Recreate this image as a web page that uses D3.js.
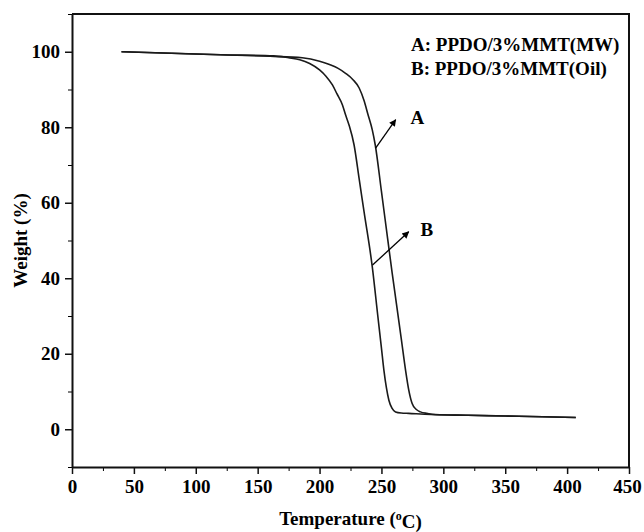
<!DOCTYPE html>
<html>
<head>
<meta charset="utf-8">
<script src="https://cdn.jsdelivr.net/npm/d3@7"></script>
<style>
  body { margin: 0; background: #fff; }
  svg text { font-family: "Liberation Serif", "Times New Roman", serif; font-weight: bold; fill: #000; }
</style>
</head>
<body>
<div class="chart"></div>
<script>
// TGA curves
var tempA   = [40, 80, 120, 160, 186, 200, 208, 215, 221, 227, 232, 236, 239, 242.6, 245, 250, 255, 258.7, 262, 266, 269.5, 272, 274.8, 278, 281.5, 287, 293.6, 320, 350, 380, 407];
var weightA = [100, 99.6, 99.2, 98.8, 98.4, 97.5, 96.6, 95.6, 94.3, 92.6, 90.4, 87.0, 83.5, 79.3, 75.3, 63, 50.5, 41.3, 33.5, 24, 15.6, 10.5, 6.8, 5.3, 4.6, 4.2, 3.9, 3.7, 3.5, 3.3, 3.1];

var tempB   = [40, 80, 120, 163, 175, 184, 192, 200, 205, 210.4, 214, 218.5, 221, 223.8, 227.9, 232, 236, 242.6, 247, 250, 252, 254, 256, 258.5, 261.4, 266, 272, 290, 320, 350, 380, 407];
var weightB = [100, 99.6, 99.2, 98.9, 98.4, 97.9, 96.9, 95.2, 93.6, 91.2, 88.9, 85.9, 83.3, 80.6, 75.3, 66.3, 57.5, 43, 30.2, 21.5, 15.6, 11, 7.7, 5.6, 4.6, 4.3, 4.2, 3.9, 3.7, 3.5, 3.3, 3.1];

var xTicks = [0, 50, 100, 150, 200, 250, 300, 350, 400, 450];
var xMinor = [25, 75, 125, 175, 225, 275, 325, 375, 425];
var yTicks = [0, 20, 40, 60, 80, 100];
var yMinor = [-10, 10, 30, 50, 70, 90, 110];

var legendLines = ["A: PPDO/3%MMT(MW)", "B: PPDO/3%MMT(Oil)"];

// arrow annotations: [from temp, from weight, to temp, to weight], label position
var arrowA = [245.3, 74.5, 261.5, 82.0];
var arrowB = [242.8, 43.5, 272.0, 52.3];
var labelA = [273.5, 82.5];
var labelB = [281.5, 53.0];

var W = 644, H = 532;
var margin = {top: 14, right: 15, bottom: 65, left: 72},
    width = W - margin.left - margin.right,
    height = H - margin.top - margin.bottom;

var svg = d3.select(".chart")
  .append("svg")
    .attr("width", W)
    .attr("height", H)
  .append("g")
    .attr("transform", "translate(" + margin.left + "," + margin.top + ")");

var x = d3.scaleLinear().domain([0, 450]).range([0, width]);
var y = d3.scaleLinear().domain([-10, 110]).range([height, 0]);

// minor ticks first
svg.append("g")
  .attr("transform", "translate(0," + height + ")")
  .call(d3.axisBottom(x).tickValues(xMinor).tickSize(4).tickFormat(""))
  .call(function(g) { g.select(".domain").remove(); });
svg.append("g")
  .call(d3.axisLeft(y).tickValues(yMinor).tickSize(4).tickFormat(""))
  .call(function(g) { g.select(".domain").remove(); });

// major axes
var gX = svg.append("g")
  .attr("transform", "translate(0," + height + ")")
  .call(d3.axisBottom(x).tickValues(xTicks).tickSize(7).tickSizeOuter(0).tickPadding(6));
var gY = svg.append("g")
  .call(d3.axisLeft(y).tickValues(yTicks).tickSize(7).tickSizeOuter(0).tickPadding(5));

[gX, gY].forEach(function(g) {
  g.selectAll("text").style("font-size", "19px").style("font-family", '"Liberation Serif", serif').style("font-weight", "bold");
  g.selectAll("line").attr("stroke", "#111").attr("stroke-width", 1.5);
  g.select(".domain").attr("stroke", "#111").attr("stroke-width", 2);
});

// keep the last label inside the window
gX.selectAll(".tick text").filter(function(d) { return d === 450; }).attr("dx", "-0.1em");

// frame top / right
svg.append("path")
  .attr("d", "M0,0H" + width + "V" + height)
  .attr("fill", "none")
  .attr("stroke", "#111")
  .attr("stroke-width", 2);

var line = d3.line()
  .x(function(d) { return x(d[0]); })
  .y(function(d) { return y(d[1]); })
  .curve(d3.curveMonotoneX);

[[tempA, weightA], [tempB, weightB]].forEach(function(s) {
  svg.append("path")
    .datum(d3.zip(s[0], s[1]))
    .attr("fill", "none")
    .attr("stroke", "#1a1a1a")
    .attr("stroke-width", 1.6)
    .attr("d", line);
});

// arrows
svg.append("defs").append("marker")
  .attr("id", "arr")
  .attr("viewBox", "0 0 10 10")
  .attr("refX", 9).attr("refY", 5)
  .attr("markerWidth", 10).attr("markerHeight", 7)
  .attr("markerUnits", "userSpaceOnUse")
  .attr("orient", "auto")
  .append("path").attr("d", "M0,0L10,5L0,10Z").attr("fill", "#000");

[[arrowA, labelA, "A"], [arrowB, labelB, "B"]].forEach(function(a) {
  svg.append("line")
    .attr("x1", x(a[0][0])).attr("y1", y(a[0][1]))
    .attr("x2", x(a[0][2])).attr("y2", y(a[0][3]))
    .attr("stroke", "#000").attr("stroke-width", 1.3)
    .attr("marker-end", "url(#arr)");
  svg.append("text")
    .attr("x", x(a[1][0])).attr("y", y(a[1][1]))
    .attr("dy", "0.35em")
    .style("font-size", "19px")
    .text(a[2]);
});

// legend text
svg.selectAll(".legend")
  .data(legendLines)
  .enter().append("text")
  .attr("class", "legend")
  .attr("x", 339)
  .attr("y", function(d, i) { return 37 + i * 24; })
  .style("font-size", "19px")
  .text(function(d) { return d; });

// axis titles
var xt = svg.append("text")
  .attr("x", width / 2)
  .attr("y", height + 58)
  .attr("text-anchor", "middle")
  .style("font-size", "19px");
xt.append("tspan").text("Temperature (");
xt.append("tspan").attr("dy", "-0.45em").style("font-size", "12px").text("o");
xt.append("tspan").attr("dy", "0.45em").text("C)");

svg.append("text")
  .attr("transform", "translate(-45," + (height / 2) + ") rotate(-90)")
  .attr("text-anchor", "middle")
  .style("font-size", "19px")
  .text("Weight (%)");
</script>
</body>
</html>
